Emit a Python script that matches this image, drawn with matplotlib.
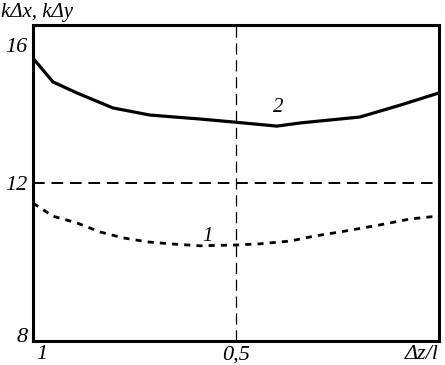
import matplotlib
matplotlib.use('Agg')
import matplotlib.pyplot as plt
from matplotlib.transforms import ScaledTranslation

# curve 2 (solid)
x2 = [1.0, 0.951, 0.892, 0.803, 0.712, 0.589, 0.502, 0.399, 0.342, 0.195, 0.096, 0.0]
y2 = [15.16, 14.56, 14.28, 13.90, 13.72, 13.62, 13.54, 13.44, 13.52, 13.67, 13.97, 14.28]

# curve 1 (short dashes)
x1 = [1.0, 0.951, 0.892, 0.835, 0.778, 0.719, 0.663, 0.589, 0.502, 0.441, 0.367, 0.305,
      0.244, 0.145, 0.071, 0.005]
y1 = [11.49, 11.16, 10.99, 10.76, 10.61, 10.51, 10.46, 10.41, 10.43, 10.46, 10.53, 10.66,
      10.76, 10.94, 11.09, 11.16]

x_ticks = [1.0, 0.5, 0.0]
x_ticklabels = ['1', '0,5', 'Δz/l']
y_ticks = [8, 12, 16]
y_ticklabels = ['8', '12', '16']
ref_level = 12
mid_x = 0.5

plt.rcParams['font.family'] = ['Liberation Serif', 'DejaVu Serif']
plt.rcParams['font.style'] = 'italic'

fig = plt.figure(figsize=(4.45, 3.65), dpi=100)
ax = fig.add_axes([0.0742, 0.0658, 0.9123, 0.8657])

ax.plot(x2, y2, color='black', linewidth=2.3, solid_joinstyle='miter')
ax.plot(x1, y1, color='black', linewidth=2.0, dashes=(2.2, 2.2))
ax.axhline(ref_level, color='black', linewidth=1.4, dashes=(6, 3.5))
ax.axvline(mid_x, color='black', linewidth=0.9, dashes=(9, 4.5))

ax.text(0.395, 13.9, '2', fontsize=15, ha='center', va='center')
ax.text(0.57, 10.65, '1', fontsize=15, ha='center', va='center')

ax.set_xlim(1, 0)
ax.set_ylim(8, 16)
ax.set_xticks(x_ticks)
ax.set_xticklabels(x_ticklabels, fontsize=16)
ax.set_yticks(y_ticks)
ax.set_yticklabels(y_ticklabels, fontsize=16)
ax.tick_params(axis='x', length=0, pad=3)
ax.tick_params(axis='y', length=0, pad=4)

xl = ax.get_xticklabels()
xl[0].set_ha('left')
xl[0].set_transform(xl[0].get_transform() + ScaledTranslation(0.03, 0, fig.dpi_scale_trans))
xl[2].set_ha('right')
yl = ax.get_yticklabels()
yl[0].set_transform(yl[0].get_transform() + ScaledTranslation(0, 0.06, fig.dpi_scale_trans))
yl[2].set_transform(yl[2].get_transform() + ScaledTranslation(0, -0.2, fig.dpi_scale_trans))

for s in ax.spines.values():
    s.set_linewidth(2.2)

fig.text(0.003, 0.965, 'kΔx, kΔy', fontsize=15, ha='left', va='center')

plt.savefig('out.png', dpi=100)
